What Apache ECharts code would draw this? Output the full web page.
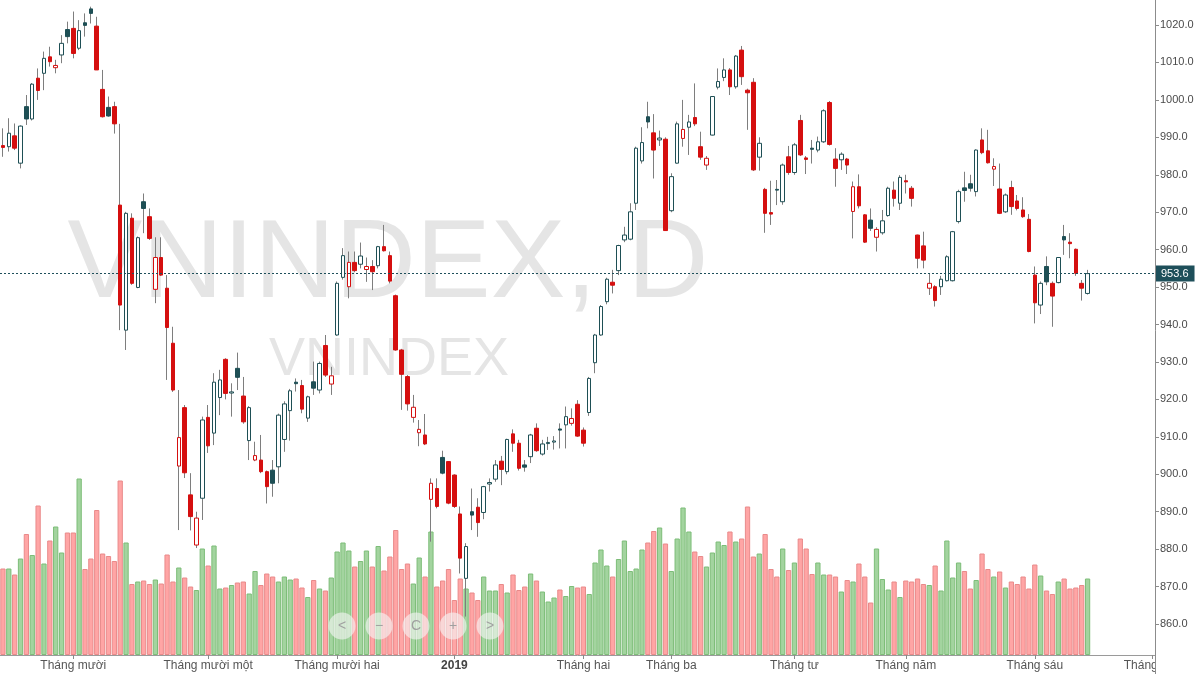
<!DOCTYPE html>
<html>
<head>
<meta charset="utf-8">
<script src="https://cdn.jsdelivr.net/npm/echarts@6/dist/echarts.min.js"></script>
<style>html,body{margin:0;padding:0;background:#fff}#c{width:1200px;height:674px}</style>
</head>
<body>
<div id="c"></div>
<script>
// ---- trading days (category axis) ----
const daysSep2018 = [13,14,17,18,19,20,21,24,25,26,27,28];
const daysOct2018 = [1,2,3,4,5,8,9,10,11,12,15,16,17,18,19,22,23,24,25,26,29,30,31];
const daysNov2018 = [1,2,5,6,7,8,9,12,13,14,15,16,19,20,21,22,23,26,27,28,29,30];
const daysDec2018 = [3,4,5,6,7,10,11,12,13,14,17,18,19,20,21,24,25,26,27,28];
const daysJan2019 = [2,3,4,7,8,9,10,11,14,15,16,17,18,21,22,23,24,25,28,29,30,31];
const daysFeb2019 = [1,11,12,13,14,15,18,19,20,21,22,25,26,27,28];
const daysMar2019 = [1,4,5,6,7,8,11,12,13,14,15,18,19,20,21,22,25,26,27,28,29];
const daysApr2019 = [1,2,3,4,5,8,9,10,11,12,16,17,18,19,22,23,24,25,26];
const daysMay2019 = [2,3,6,7,8,9,10,13,14,15,16,17,20,21,22,23,24,27,28,29,30,31];
const daysJun2019 = [3,4,5,6,7,10,11,12,13,14,17,18,19,20,21,24,25,26,27,28];
const daysJul2019 = [1];

// ---- OHLC + volume (VNINDEX, daily) ----
const opens = [
987.8,987.5,990.4,983.1,998.2,994.9,1005.8,1007.1,1011.5,1008.6,
1012,1018.8,1019.1,1013.8,1020.6,1024.3,1019.7,1002.8,998,998.2,
971.9,938.5,968.4,949.9,972.8,968.8,949.4,957.9,949.7,935,
902.2,917.8,894.5,881.1,893.6,915.2,911,920.5,930.7,921.7,
928.3,920.9,909,903.8,903.8,900.7,901.1,902,909.3,917,
924.6,923.7,915,924.7,922.5,934.4,924.1,937.2,952.6,950.1,
956.6,956.1,954.7,955.5,955.7,960.8,958.4,947.7,933.2,926.1,
915.2,911.1,910.5,893.3,896.2,904.5,903.4,899.8,889.4,872.2,
890,891.2,889.8,897.4,898.7,903.5,900.7,910.8,908.3,902.5,
904.7,912.3,905.4,908.2,908.6,912.1,913.2,913.6,918.7,911.8,
916.5,929.8,937.2,946.1,951.3,954.4,962.6,962.8,972.4,983.7,
995.5,991.2,989.3,989.5,970.4,983.1,989.7,992.7,995.3,987.5,
982.6,990.6,1003.4,1006,1008,1003.5,1013.3,1002.6,1004.7,984.7,
976.1,969.9,976.1,972.8,984.8,980.6,994.5,984.5,987.1,986.6,
988.8,999.3,984.2,984,984.2,970.2,976.8,969.3,967.9,963.3,
964.5,969.1,975.9,972.4,978.4,976.4,963.9,961,949.7,950.1,
950.1,951.7,951.7,967.5,976.5,977.6,975.5,989.3,986.4,981.5,
976.2,970.1,976.6,973,970.6,968.1,953.2,945.2,955.5,951,
951.2,963.5,962,960.1,951,948.3
];
const closes = [
987.3,991.1,987.1,993,994.9,1004.2,1002.5,1011.1,1010.2,1009.2,
1015.1,1016.9,1012.4,1018.5,1019.9,1023.1,1008,995.5,995.7,993.6,
945.2,969.7,951,963.2,971,963,957.9,953.2,939.2,922.5,
909.8,900.4,888.7,888.3,914.5,907.6,924.6,925.2,921.6,922,
925.9,914,917.8,905,900.7,896.7,897.6,915.8,918.8,922.3,
924.2,917.4,920.7,923,929.6,926.5,926.3,951,958.4,956.6,
954.4,958.3,955.5,954.1,960.8,959.7,951.6,933.2,926.7,918.8,
917.9,912,908.1,897.6,891.4,900.3,892.3,891.4,877.6,880.7,
889.1,887.1,896.7,897.8,902.5,901.3,909.3,908.3,901.6,901.9,
910.5,906.3,908.1,908.5,908.9,911.8,915.4,914.9,910.2,908.3,
925.6,937.2,944.8,952.1,950.5,961.1,963.9,970.1,987.1,988.6,
994.1,986.6,989.8,965.1,979.5,993.6,992.1,994.1,993.6,984.7,
984.4,1000.9,1004.9,1008,1003.5,1011.7,1006.2,1001.9,981.3,988.4,
969.7,969.5,975.9,982.6,980.6,988,985.3,984.1,986.8,988.8,
997.1,988.1,981.7,985.5,982.6,976.8,971.7,962,965.7,965.4,
967.7,976.4,973.7,979.3,978.1,973.7,957.7,957.2,951,946.4,
952.1,958.1,964.8,975.5,975.8,976.4,986.6,985.9,983.2,982.2,
969.7,974.6,971.5,971,968.8,959.5,945.8,951,951.4,947.6,
957.9,962.6,961.6,953.7,949.7,953.6
];
const lows = [
984.8,986.2,986.6,981.7,993.3,994.5,1000,1002.6,1008.9,1007.1,
1009.8,1015.1,1011.1,1013.3,1016.9,1020.4,1008,995.3,995.5,991,
938.5,933.2,950.6,949.7,964.4,962.6,945.7,953,925.2,922,
885.1,899,885,880.3,887.8,905.7,907.8,915.8,920,915.4,
922.5,913.5,903.8,903.5,900.3,892.2,894,897.6,906,909,
922.1,916.3,914,921.2,921.6,926,921.2,937,952,947,
954,955,951.4,949.2,955,959.5,951,933,917.2,917,
913.8,907.5,907.8,882,890.9,900,892,891,873.5,862,
885.1,883.3,888,895.4,898,897.1,900,906,901,900.7,
903,906,905,906.5,906.6,906.9,906.9,913,910,907.4,
915.6,927,937,945.4,948.3,953.2,962,962.5,970.6,983,
992.4,979,987.7,965,970,983,987.5,985.3,993,984,
981.3,990.5,1002.8,1005,1001.3,1003,1004,992,981,981.1,
964.5,966.6,971.9,972,980,980,985,980.2,983,986,
988.5,987.8,976.8,981.3,980.2,963,971,961.8,965,959.5,
964,968.8,971.5,970.6,975,971.5,955,955,947.9,944.8,
947.9,951.5,951.5,967,972.8,975.5,974.2,985.5,983,977,
969.5,969.8,969.3,970.5,968.5,959.3,940.3,942.8,950.5,939.4,
951,958.6,957.7,953,946.4,948
];
const highs = [
992.4,995.1,993.7,993.2,1001.3,1004.5,1008.4,1012.9,1014.2,1010.7,
1017.3,1020.9,1023.6,1021.3,1023.1,1024.9,1022.2,1008,1000.9,999.5,
993.6,970.1,969.7,963.5,975,971,963.3,963.3,953.2,939.4,
922.5,918.5,900.3,890,915.4,918.5,927,927.9,931,924.3,
932.5,926,918.2,908.7,910.5,901,903.8,916.2,919.5,922.8,
925.6,925.2,921,930.1,930.1,937.2,928.7,951.5,960.4,959.5,
959.5,961.9,957.9,957.2,961,966.6,959.5,948,933.5,926.5,
921.2,914.5,916.1,898.9,898.9,906.3,903.5,900,891.4,881.6,
896.2,893.6,896.9,898.9,903.8,904.9,909.5,912,909.2,903.8,
910.8,913.6,909.2,910,910.2,913.6,918.1,917.6,919.8,912.5,
926,937.5,945.2,952.5,954.6,961.3,966.1,972.4,987.5,992.7,
999.5,996.2,991.8,990,980.4,994.2,1000,996,1004.4,991.5,
985,1001,1008.4,1011.1,1008.5,1012,1014.4,1003,1005.8,990,
976.5,978.4,978.6,983,987.7,988.5,996,985,989.3,990.2,
997.5,999.7,987.1,986,984.5,978.2,980.1,969.5,971,966,
970.6,976.8,978.2,979.9,980,977,964,964.8,953.7,950.5,
953,958.5,965,976,980.8,980,986.8,992.4,992,984.4,
983,975,978.4,974.6,974,969.5,955.5,951.5,958.2,951.5,
958,966.6,964.4,960.3,951.9,954.6
];
const volumes = [
173,173,161,193,242,200,299,183,229,257,
205,245,245,353,172,193,290,203,198,188,
349,225,142,147,149,142,151,143,201,147,
175,155,137,130,213,179,219,133,135,140,
145,147,123,168,140,163,157,147,157,151,
153,135,116,150,133,129,155,207,225,209,
177,188,209,177,218,169,197,250,172,183,
143,195,157,247,137,149,172,110,153,133,
125,110,157,129,129,142,125,161,130,137,
163,149,127,107,115,131,118,138,135,137,
122,185,211,179,157,192,229,168,173,211,
225,248,255,223,168,233,295,247,207,198,
177,205,227,220,247,227,233,297,197,203,
242,172,157,213,170,185,233,213,162,185,
161,161,157,127,150,147,183,157,105,213,
152,131,147,116,149,147,153,142,140,179,
129,229,155,185,168,133,150,203,172,157,
167,135,147,142,157,133,181,159,129,122,
147,153,133,135,140,153
];
const monthLabels = ['2019','Tháng hai','Tháng ba','Tháng tư','Tháng năm','Tháng sáu','Tháng bảy','Tháng tám','Tháng chín','Tháng mười','Tháng mười một','Tháng mười hai'];
const symbolName = 'VNINDEX';
const intervalName = 'D';

// ---- build categories ----
const monthTable = [
  [2018,9,daysSep2018],[2018,10,daysOct2018],[2018,11,daysNov2018],[2018,12,daysDec2018],
  [2019,1,daysJan2019],[2019,2,daysFeb2019],[2019,3,daysMar2019],[2019,4,daysApr2019],
  [2019,5,daysMay2019],[2019,6,daysJun2019],[2019,7,daysJul2019]
];
const dates = [];
const monthStart = [];
monthTable.forEach(([y,m,days]) => {
  days.forEach((d,k) => {
    dates.push(y + '-' + String(m).padStart(2,'0') + '-' + String(d).padStart(2,'0'));
    monthStart.push(k === 0 && dates.length > 1);
  });
});

const UP = '#1e4f55', DOWN = '#d50f0f';
const VOL_UP = '#a3d49f', VOL_UP_B = '#7dbd78', VOL_DN = '#ffa5a5', VOL_DN_B = '#e98a8a';
const bodyData = [], wickData = [], volData = [];
for (let i = 0; i < closes.length; i++) {
  const o = opens[i], c = closes[i], l = lows[i], h = highs[i];
  const prev = i > 0 ? closes[i-1] : o;
  const col = c >= prev ? UP : DOWN;
  const hollow = c >= o;
  const fill = hollow ? '#ffffff' : col;
  bodyData.push({ value: [o, c, Math.min(o,c), Math.max(o,c)],
    itemStyle: { color: fill, color0: fill, borderColor: col, borderColor0: col } });
  wickData.push([o, c, l, h]);
  const vu = c >= o;
  volData.push({ value: volumes[i], itemStyle: { color: vu ? VOL_UP : VOL_DN, borderColor: vu ? VOL_UP_B : VOL_DN_B } });
}
const lastClose = closes[closes.length - 1];

const chart = echarts.init(document.getElementById('c'));
const FONT = '"Liberation Sans", Arial, sans-serif';
const btnX = [342, 379, 416, 453, 490];
const btnTxt = ['<', '−', 'C', '+', '>'];
const graphics = [
  { type: 'text', z: 0, style: { x: 388, y: 266, text: symbolName + ', ' + intervalName, font: '112px ' + FONT, fill: '#e5e5e5', textAlign: 'center', textVerticalAlign: 'middle' } },
  { type: 'text', z: 0, style: { x: 389, y: 360, text: symbolName, font: '54px ' + FONT, fill: '#e5e5e5', textAlign: 'center', textVerticalAlign: 'middle' } },
  { type: 'rect', z: 100, shape: { x: 1156, y: 656, width: 44, height: 18 }, style: { fill: '#fff' } },
  { type: 'line', z: 101, shape: { x1: 1155.5, y1: 650, x2: 1155.5, y2: 674 }, style: { stroke: '#8c8c8c', lineWidth: 1 } }
];
btnX.forEach((x, k) => {
  graphics.push({ type: 'circle', z: 50, shape: { cx: x, cy: 626, r: 13.5 }, style: { fill: 'rgba(245,245,245,0.62)' } });
  graphics.push({ type: 'text', z: 51, style: { x: x, y: 626, text: btnTxt[k], font: '14px ' + FONT, fill: '#a0a0a0', textAlign: 'center', textVerticalAlign: 'middle' } });
});

chart.setOption({
  animation: false,
  backgroundColor: '#fff',
  graphic: graphics,
  grid: [
    { left: 0, right: 45, top: 0, bottom: 12.52 },
    { left: 0, right: 45, top: 300, bottom: 19 }
  ],
  xAxis: [
    { type: 'category', gridIndex: 0, data: dates, show: false, boundaryGap: true },
    { type: 'category', gridIndex: 1, data: dates, boundaryGap: true,
      axisLine: { show: true, lineStyle: { color: '#9a9a9a' } },
      axisTick: { show: true, length: 4, alignWithLabel: true, interval: (i) => monthStart[i], lineStyle: { color: '#8a8a8a' } },
      axisLabel: { interval: (i) => monthStart[i], color: '#555', fontSize: 12, fontFamily: FONT, margin: 5,
        formatter: (v) => { const m = +v.slice(5,7); return m === 1 ? '{b|' + v.slice(0,4) + '}' : monthLabels[m-1]; },
        rich: { b: { fontWeight: 'bold', color: '#444', fontSize: 12, fontFamily: FONT } } },
      splitLine: { show: false } }
  ],
  yAxis: [
    { type: 'value', gridIndex: 0, position: 'right', min: 850, max: 1026.68, interval: 10,
      axisLine: { show: true, lineStyle: { color: '#8c8c8c' } },
      axisTick: { show: true, length: 4, lineStyle: { color: '#8c8c8c' } },
      splitLine: { show: false },
      axisLabel: { color: '#4a4a4a', fontSize: 11, fontFamily: FONT, margin: 5, showMaxLabel: false,
        formatter: (v) => (v <= 850 || v > 1021) ? '' : v.toFixed(1) } },
    { type: 'value', gridIndex: 1, min: 0, max: 710, show: false, splitLine: { show: false } }
  ],
  series: [
    { type: 'bar', xAxisIndex: 1, yAxisIndex: 1, data: volData, barCategoryGap: '10%', z: 1,
      itemStyle: { borderWidth: 1 } },
    { type: 'candlestick', xAxisIndex: 0, yAxisIndex: 0, data: wickData, barWidth: 1, z: 3,
      itemStyle: { color: '#7e7e7e', color0: '#7e7e7e', borderColor: '#7e7e7e', borderColor0: '#7e7e7e', borderWidth: 1 } },
    { type: 'candlestick', xAxisIndex: 0, yAxisIndex: 0, data: bodyData, barWidth: 4, z: 4,
      itemStyle: { borderWidth: 1 },
      markLine: { silent: true, symbol: 'none', animation: false,
        lineStyle: { color: '#1e4f5a', type: [2, 2], width: 1 },
        label: { show: true, position: 'end', distance: 1, formatter: () => lastClose.toFixed(1),
          backgroundColor: '#1e4f5a', color: '#fff', fontSize: 11, fontFamily: FONT, padding: [3, 6, 2, 5] },
        data: [{ yAxis: lastClose }] } }
  ]
});
</script>
</body>
</html>
